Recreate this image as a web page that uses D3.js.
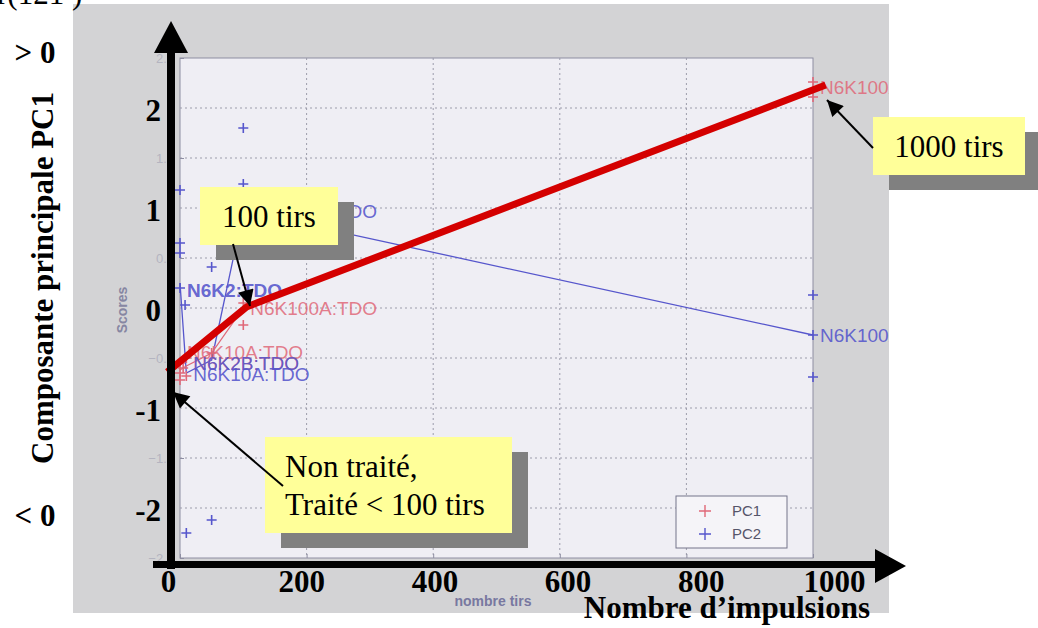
<!DOCTYPE html>
<html>
<head>
<meta charset="utf-8">
<title>PC1 / nombre de tirs</title>
<script src="https://d3js.org/d3.v7.min.js"></script>
<style>
  body { margin: 0; background: #fff; }
  svg { display: block; }
  .serif { font-family: "Liberation Serif", "DejaVu Serif", serif; }
  .sans { font-family: "Liberation Sans", Arial, sans-serif; }
</style>
</head>
<body>
<svg id="chart" width="1038" height="628"></svg>
<script>
// ---- data ----
const xTicks = [0, 200, 400, 600, 800, 1000];
const yTicks = [2.5, 2, 1.5, 1, 0.5, 0, -0.5, -1, -1.5, -2, -2.5];
const yFaint = [2.5, 1.5, 0.5, -0.5, -1.5, -2.5];
const yBold = [2, 1, 0, -1, -2];
const yBoldText = ["2", "1", "0", "-1", "-2"];

// PC1 scores (red +)
const pc1X = [0, 0, 0, 5, 10, 10, 50, 100, 100, 1000, 1000];
const pc1Y = [-0.55, -0.65, -0.72, -0.6, -0.5, -0.68, -0.45, 0.05, -0.17, 2.26, 2.11];
const pc1MeanX = [0, 10, 50, 100, 1000];
const pc1MeanY = [-0.62, -0.58, -0.45, 0.0, 2.2];

// PC2 scores (blue +)
const pc2X = [0, 0, 0, 0, 8, 10, 50, 50, 100, 100, 1000, 1000, 1000];
const pc2Y = [1.18, 0.65, 0.55, 0.2, 0.03, -2.25, 0.41, -2.12, 1.8, 1.24, 0.13, -0.27, -0.69];
const pc2MeanX = [0, 10, 50, 100, 1000];
const pc2MeanY = [0.25, -0.65, -0.52, 0.97, -0.27];

// sample labels
const labText = ["N6K100A:TDO", "N6K100A:TDO", "N6K2:TDO", "N6K10A:TDO", "N6K2B:TDO", "N6K2B:TDO", "N6K10A:TDO", "N6K100A:TDO", "N6K100A:TDO"];
const labX = [100, 100, 0, 0, 10, 10, 10, 1000, 1000];
const labY = [0.97, 0.0, 0.18, -0.44, -0.55, -0.55, -0.66, 2.21, -0.27];
const labSeries = ["pc2", "pc1", "pc2", "pc1", "pc1", "pc2", "pc2", "pc1", "pc2"];

// hand-drawn trend of PC1
const trendX = [-20, 105, 1020];
const trendY = [-0.64, 0.01, 2.23];

// ---- page ----
const svg = d3.select("#chart");
const x = d3.scaleLinear().domain([0, 1000]).range([180, 813]);
const y = d3.scaleLinear().domain([-2.5, 2.5]).range([558, 58]);
const xLab = d3.scaleLinear().domain([0, 1000]).range([168, 834]);

const red = "#e06878", blue = "#5656cc";

// marker for annotation arrows
svg.append("defs").html(
  '<marker id="ah" viewBox="0 0 10 10" refX="10" refY="5" markerWidth="20" markerHeight="16" markerUnits="userSpaceOnUse" orient="auto"><path d="M0,0L10,5L0,10z" fill="#000"/></marker>' +
  '<clipPath id="shot"><rect x="73" y="4" width="816" height="609"/></clipPath>'
);

// screenshot of the original plot
const shot = svg.append("g").attr("clip-path", "url(#shot)");
shot.append("rect").attr("x", 73).attr("y", 4).attr("width", 816).attr("height", 609).attr("fill", "#d3d3d5");
shot.append("rect").attr("x", 180).attr("y", 58).attr("width", 633).attr("height", 500)
  .attr("fill", "#efeef4").attr("stroke", "#8e8ea2");

// grid
shot.append("g").selectAll("line").data(xTicks.slice(1, -1)).join("line")
  .attr("x1", d => x(d)).attr("x2", d => x(d)).attr("y1", 58).attr("y2", 558)
  .attr("stroke", "#9c9cab").attr("stroke-dasharray", "2,3");
shot.append("g").selectAll("line").data(yTicks.slice(1, -1)).join("line")
  .attr("y1", d => y(d)).attr("y2", d => y(d)).attr("x1", 180).attr("x2", 813)
  .attr("stroke", "#9c9cab").attr("stroke-dasharray", "2,3");

// faint inner axes (mostly hidden under the bold overlay)
const inY = shot.append("g").attr("transform", "translate(180,0)")
  .call(d3.axisLeft(y).tickValues(yFaint).tickSize(-4).tickPadding(6).tickSizeOuter(0));
const inX = shot.append("g").attr("transform", "translate(0,558)")
  .call(d3.axisBottom(x).tickValues(xTicks).tickSize(-4).tickFormat("").tickSizeOuter(0));
[inY, inX].forEach(g => {
  g.select(".domain").remove();
  g.selectAll("line").attr("stroke", "#8e8ea2");
  g.selectAll("text").attr("class", "sans").attr("font-size", 13).attr("fill", "#b4b4c0");
});
shot.append("text").attr("class", "sans").attr("transform", "translate(127,310) rotate(-90)")
  .attr("text-anchor", "middle").attr("font-size", 14).attr("font-weight", "bold")
  .attr("fill", "#8686a2").text("Scores");
shot.append("text").attr("class", "sans").attr("x", 493).attr("y", 606)
  .attr("text-anchor", "middle").attr("font-size", 14).attr("font-weight", "bold")
  .attr("fill", "#7878a0").text("nombre tirs");

// mean lines
const line = d3.line().x(d => x(d[0])).y(d => y(d[1]));
shot.append("path").attr("d", line(d3.zip(pc2MeanX, pc2MeanY)))
  .attr("fill", "none").attr("stroke", blue).attr("stroke-width", 1.3);
shot.append("path").attr("d", line(d3.zip(pc1MeanX, pc1MeanY)))
  .attr("fill", "none").attr("stroke", red).attr("stroke-width", 1.3);

// + markers
function plus(g, xs, ys, color) {
  g.append("g").selectAll("path").data(d3.zip(xs, ys)).join("path")
    .attr("d", d => { const px = x(d[0]), py = y(d[1]);
      return `M${px - 5},${py}H${px + 5}M${px},${py - 5}V${py + 5}`; })
    .attr("stroke", color).attr("stroke-width", 1.6);
}
plus(shot, pc1X, pc1Y, red);
plus(shot, pc2X, pc2Y, blue);

// sample labels
shot.append("g").selectAll("text").data(d3.range(labText.length)).join("text")
  .attr("class", "sans")
  .attr("x", i => x(labX[i]) + 7).attr("y", i => y(labY[i]))
  .attr("dy", "0.35em").attr("font-size", 19)
  .attr("font-weight", i => labText[i] === "N6K2:TDO" ? "bold" : "normal")
  .attr("fill", i => labSeries[i] === "pc1" ? red : blue)
  .attr("fill-opacity", i => labSeries[i] === "pc1" ? 0.85 : 0.9)
  .text(d => labText[d]);

// legend
const leg = shot.append("g");
leg.append("rect").attr("x", 676).attr("y", 496).attr("width", 111).attr("height", 52)
  .attr("fill", "#f5f4f8").attr("stroke", "#74748a");
[["PC1", red], ["PC2", blue]].forEach((d, i) => {
  const cy = 511 + i * 23;
  leg.append("path").attr("d", `M699,${cy}H711M705,${cy - 6}V${cy + 6}`).attr("stroke", d[1]).attr("stroke-width", 1.4);
  leg.append("text").attr("class", "sans").attr("x", 732).attr("y", cy).attr("dy", "0.35em")
    .attr("font-size", 15).attr("fill", "#55556a").text(d[0]);
});

// ---- overlay ----
// trend line
svg.append("path").attr("d", line(d3.zip(trendX, trendY)))
  .attr("fill", "none").attr("stroke", "#d40000").attr("stroke-width", 7);

// bold axes
svg.append("rect").attr("x", 167).attr("y", 50).attr("width", 8).attr("height", 519).attr("fill", "#000");
svg.append("path").attr("d", "M171,21L188,53L154,53Z").attr("fill", "#000");
svg.append("rect").attr("x", 153).attr("y", 561).attr("width", 725).attr("height", 7).attr("fill", "#000");
svg.append("path").attr("d", "M906,566L875,549L875,583Z").attr("fill", "#000");

const bY = svg.append("g").attr("transform", "translate(171,3)")
  .call(d3.axisLeft(y).tickValues(yBold).tickFormat((d, i) => yBoldText[i]).tickSize(0).tickPadding(10));
const bX = svg.append("g").attr("transform", "translate(0,564)")
  .call(d3.axisBottom(xLab).tickValues(xTicks).tickFormat(d3.format("d")).tickSize(0).tickPadding(6));
[bY, bX].forEach(g => {
  g.select(".domain").remove();
  g.selectAll("text").attr("class", "serif").attr("font-size", 31)
    .attr("font-weight", "bold").attr("fill", "#000");
});

svg.append("text").attr("class", "serif").attr("x", 35).attr("y", 63).attr("text-anchor", "middle")
  .attr("font-size", 31).attr("font-weight", "bold").text("> 0");
svg.append("text").attr("class", "serif").attr("x", 35).attr("y", 526).attr("text-anchor", "middle")
  .attr("font-size", 31).attr("font-weight", "bold").text("< 0");
svg.append("text").attr("class", "serif").attr("transform", "translate(53,278) rotate(-90)")
  .attr("text-anchor", "middle").attr("font-size", 31).attr("font-weight", "bold")
  .text("Composante principale PC1");
svg.append("text").attr("class", "serif").attr("x", 870).attr("y", 618).attr("text-anchor", "end")
  .attr("font-size", 31).attr("font-weight", "bold").text("Nombre d\u2019impulsions");
svg.append("text").attr("class", "serif").attr("x", -3).attr("y", 4)
  .attr("font-size", 31).text("r(121 )");

// annotation boxes
function callout(bx, by, bw, bh, lines, from, to) {
  svg.append("rect").attr("x", bx + 16).attr("y", by + 15).attr("width", bw).attr("height", bh).attr("fill", "#808080");
  svg.append("rect").attr("x", bx).attr("y", by).attr("width", bw).attr("height", bh).attr("fill", "#ffff99");
  lines.forEach((t, i) => {
    svg.append("text").attr("class", "serif").attr("font-size", 31)
      .attr("x", lines.length > 1 ? bx + 20 : bx + bw / 2)
      .attr("text-anchor", lines.length > 1 ? "start" : "middle")
      .attr("y", lines.length > 1 ? by + 40 + i * 38 : by + bh / 2 + 11)
      .text(t);
  });
  svg.append("line").attr("x1", from[0]).attr("y1", from[1]).attr("x2", to[0]).attr("y2", to[1])
    .attr("stroke", "#000").attr("stroke-width", 2).attr("marker-end", "url(#ah)");
}
callout(200, 187, 138, 58, ["100 tirs"], [233, 244], [250, 306]);
callout(873, 117, 152, 58, ["1000 tirs"], [873, 148], [827, 100]);
callout(265, 437, 247, 96, ["Non trait\u00e9,", "Trait\u00e9 < 100 tirs"], [283, 486], [173, 392]);
</script>
</body>
</html>
